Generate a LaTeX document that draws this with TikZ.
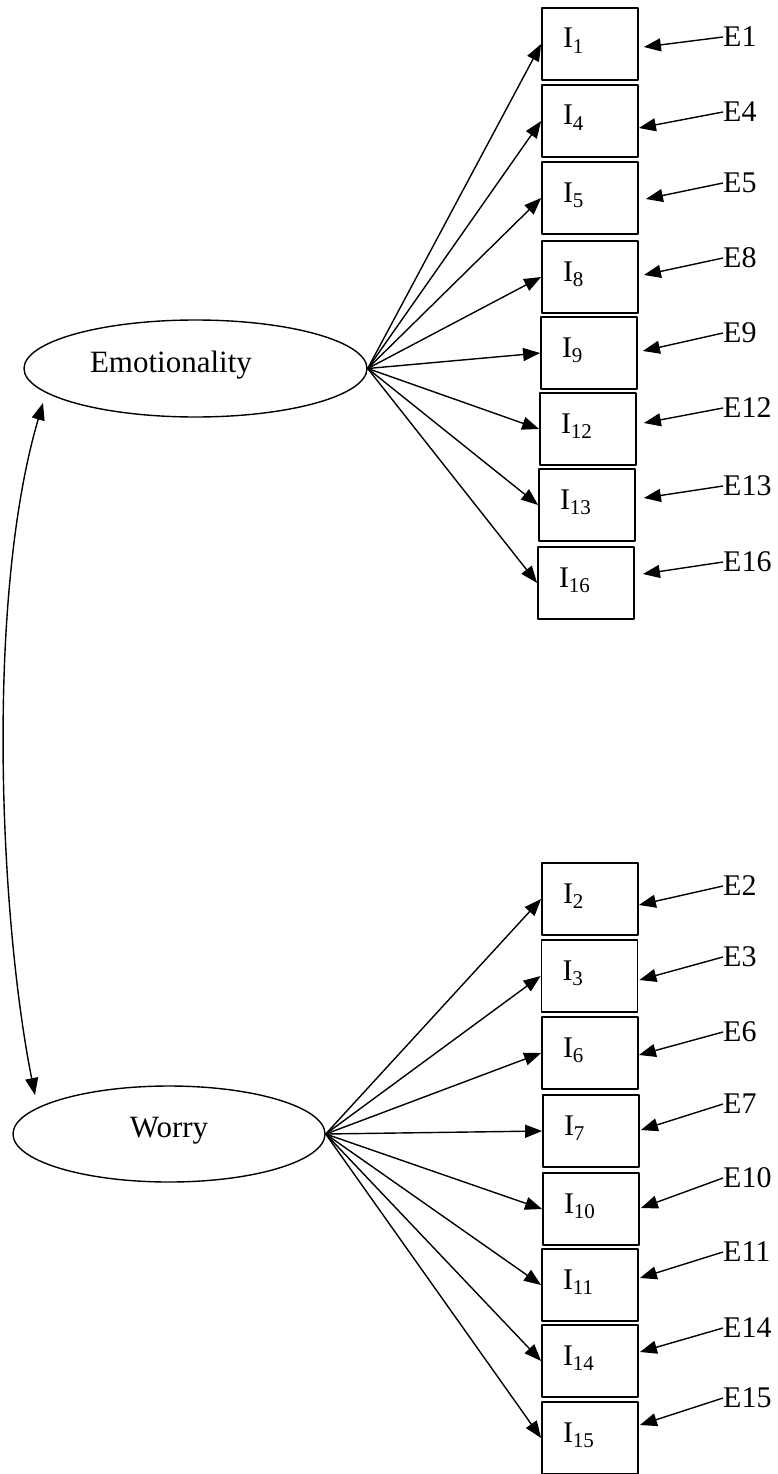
\documentclass[tikz,border=0pt]{standalone}
\usepackage{fontspec}
\setmainfont{Liberation Serif}
\usetikzlibrary{arrows.meta,shapes.geometric}
\newcommand\boxfont{\fontsize{30}{36}\selectfont}
\newcommand\latfont{\fontsize{31}{37}\selectfont}
\begin{document}
\begin{tikzpicture}[x=1pt,y=-1pt,>={Triangle[length=17pt,width=13pt]},line join=round,
    item/.style={draw,line width=1.8pt,minimum width=96pt,minimum height=72pt,inner xsep=21pt,inner ysep=0pt,
      text width=54pt,align=left,text height=20pt,text depth=12pt,font=\boxfont},
    latent/.style={draw,ellipse,line width=1.4pt,inner sep=0pt,text height=20pt,text depth=13pt,font=\latfont},
    err/.style={inner sep=0pt,font=\boxfont},
    load/.style={->,line width=1.4pt}]
    \useasboundingbox (0,0) rectangle (778,1474);
    \node[latent,minimum width=343pt,minimum height=97pt,text width=211pt,align=left] (emo) at (195.5,368.5) {Emotionality};
    \node[latent,minimum width=312pt,minimum height=96pt] (wor) at (169,1134) {Worry};
    % emotionality items
    \foreach \n/\x/\y/\ey/\dx/\dy in {1/590/44/37/5/3, 4/590/121/112/0/7, 5/590/198/183/7/1, 8/590/277/258/5/-2,
        9/589/353/333/5/-2, 12/588/429/408/7/-6, 13/587/505/486/8/-7, 16/586/583/562/8/-9}{
        \node[item] (i\n) at (\x,\y) {I\textsubscript{\n}};
        \node[err,anchor=west] (e\n) at (723,\ey) {E\n};
        \draw[load] (emo.east) -- (i\n.west);
        \draw[load] (e\n.west) -- ([shift={(\dx,\dy)}]i\n.east);
    }
    % worry items
    \foreach \n/\x/\y/\ey/\dx/\dy in {2/590/899/886/0/6, 3/589.5/976/957/1/4, 6/590/1053/1032/0/2, 7/591/1131/1104/1/-1,
        10/591/1209/1178/1/-1, 11/590/1285/1252/1/-7, 14/590/1361/1328/1/-9, 15/590/1438/1398/1/-13}{
        \node[item] (i\n) at (\x,\y) {I\textsubscript{\n}};
        \node[err,anchor=west] (e\n) at (723,\ey) {E\n};
        \draw[load] (wor.east) -- (i\n.west);
        \draw[load] (e\n.west) -- ([shift={(\dx,\dy)}]i\n.east);
    }
    % covariance
    \coordinate (ctop) at (43,403);
    \coordinate (cbot) at (35,1095);
    \draw[<->,line width=1.4pt] (ctop) .. controls (-15,600) and (0,920) .. (cbot);
\end{tikzpicture}
\end{document}
